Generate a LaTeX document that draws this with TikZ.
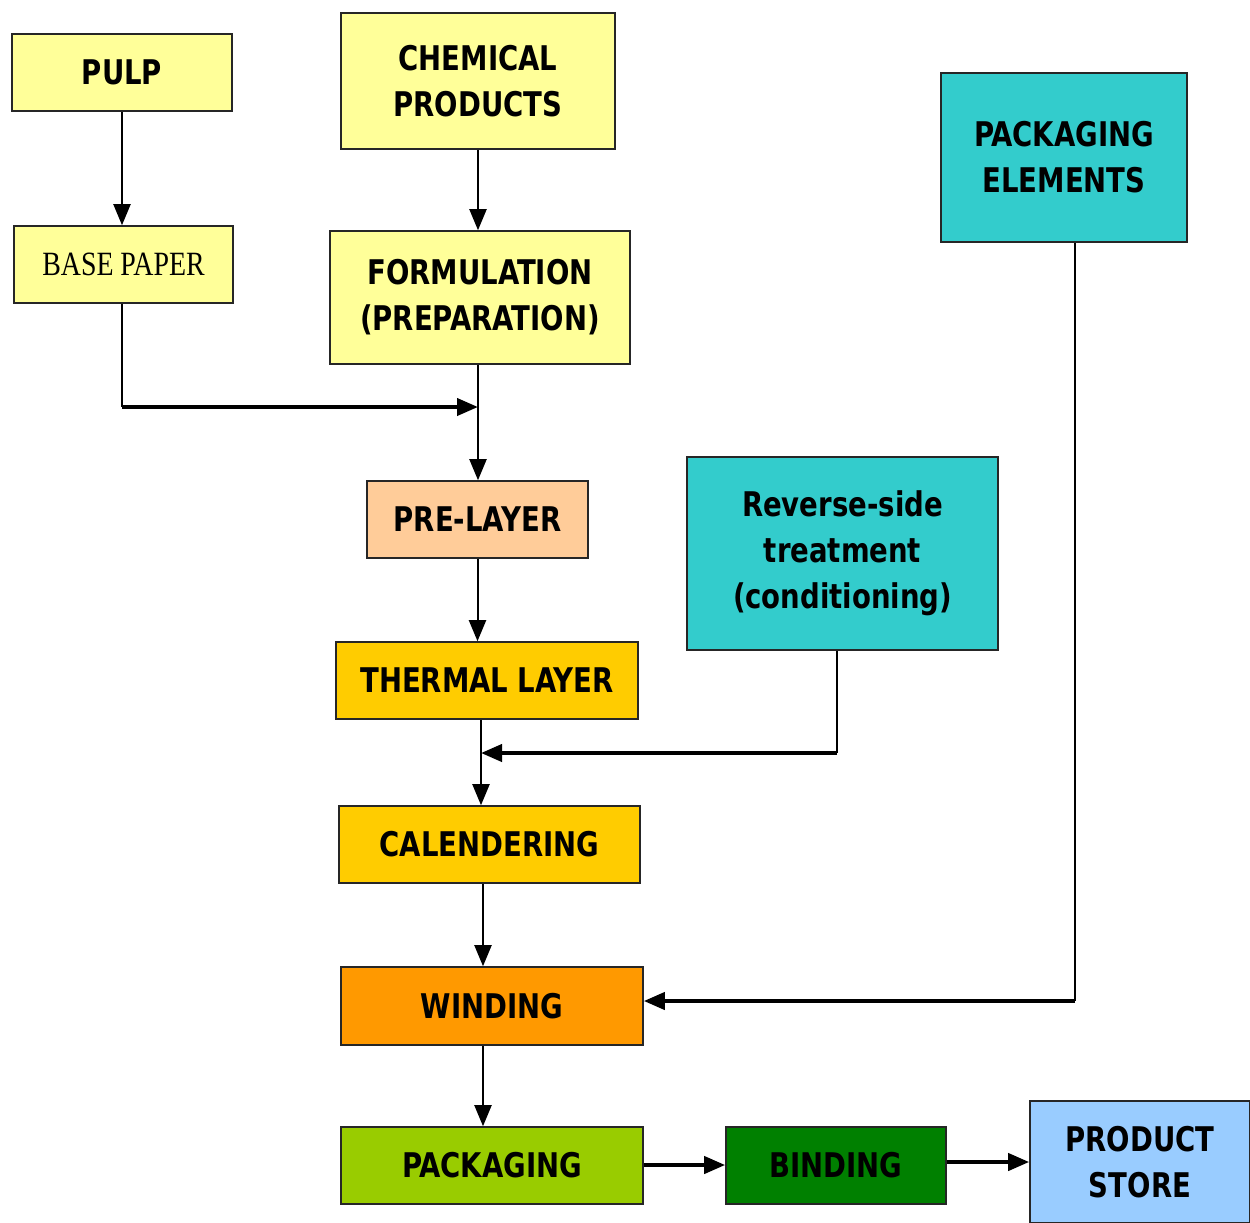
\documentclass[tikz,border=0pt]{standalone}
\usepackage{fontspec}
\setmainfont[FakeStretch=0.9]{DejaVu Sans Condensed}
\newfontfamily\serifbox[FakeStretch=0.82]{Liberation Serif}
\usetikzlibrary{arrows.meta}
\usetikzlibrary{positioning}

\definecolor{paleyellow}{HTML}{FFFF99}
\definecolor{boxteal}{HTML}{33CCCC}
\definecolor{peach}{HTML}{FFCC99}
\definecolor{gold}{HTML}{FFCC00}
\definecolor{windorange}{HTML}{FF9900}
\definecolor{limegreen}{HTML}{99CC00}
\definecolor{bindgreen}{HTML}{008000}
\definecolor{skyblue}{HTML}{99CCFF}

\begin{document}
\begin{tikzpicture}[
		x=0.5pt,y=-0.5pt,
		>={Triangle[length=10.5pt,width=8.5pt]},
		box/.style={draw=black!85,line width=0.8pt,rectangle,align=center,inner sep=0pt,
			font=\bfseries\fontsize{17}{23}\selectfont},
		raw/.style={box,fill=paleyellow},
		mix/.style={box,fill=gold},
		extra/.style={box,fill=boxteal},
		flow/.style={->,line width=1pt},
		feed/.style={->,line width=2pt}
	]
		\useasboundingbox (0,0) rectangle (1250,1223);
		\fill[white] (0,0) rectangle (1250,1223);

		\node [raw,minimum width=110pt,minimum height=38.5pt] (pulp) at (122,72.5) {PULP};
		\node [raw,minimum width=137pt,minimum height=68pt] (chemicals) at (478,81) {CHEMICAL\\PRODUCTS};
		\node [raw,minimum width=109.5pt,minimum height=38.5pt,font=\serifbox\fontsize{17}{20}\selectfont] (base_paper) at (123.5,264.5) {BASE PAPER};
		\node [raw,minimum width=150pt,minimum height=66.5pt] (formulation) at (480,297.5) {FORMULATION\\(PREPARATION)};
		\node [extra,minimum width=123pt,minimum height=84.5pt] (pack_elements) at (1064,157.5) {PACKAGING\\ELEMENTS};

		\node [box,fill=peach,minimum width=110.5pt,minimum height=38.5pt] (pre_layer) at (477.5,519.5) {PRE-LAYER};
		\node [extra,minimum width=155.5pt,minimum height=96.5pt] (reverse_side) at (842.5,553.5) {Reverse-side\\treatment\\(conditioning)};
		\node [mix,minimum width=151pt,minimum height=38.5pt] (thermal) at (487,680.5) {THERMAL LAYER};
		\node [mix,minimum width=150.5pt,minimum height=38.5pt] (calendering) at (489.5,844.5) {CALENDERING};
		\node [box,fill=windorange,minimum width=151pt,minimum height=39pt] (winding) at (492,1006) {WINDING};
		\node [box,fill=limegreen,minimum width=151pt,minimum height=38.5pt] (packaging) at (492,1165.5) {PACKAGING};
		\node [box,fill=bindgreen,minimum width=110pt,minimum height=38.5pt] (binding) at (836,1165.5) {BINDING};
		\node [box,fill=skyblue,minimum width=110pt,minimum height=61pt] (store) at (1140,1162) {PRODUCT\\STORE};

		\coordinate (turn_base) at (122,407);
		\coordinate (join_base) at (478,407);
		\coordinate (turn_reverse) at (837,753);
		\coordinate (join_reverse) at (481,753);
		\coordinate (turn_pack) at (1075,1001);

		\draw [flow] (pulp.south -| turn_base) -- (base_paper.north -| turn_base);
		\draw [flow] (chemicals) -- (chemicals |- formulation.north);
		\draw [flow] (formulation.south -| chemicals) -- (chemicals |- pre_layer.north);
		\draw [line width=1pt] (base_paper.south -| turn_base) -- (turn_base);
		\draw [feed] (turn_base) -- (join_base);
		\draw [flow] (pre_layer) -- (pre_layer.south |- thermal.north);
		\draw [flow] (thermal.south -| join_reverse) -- (join_reverse |- calendering.north);
		\draw [line width=1pt] (reverse_side.south -| turn_reverse) -- (turn_reverse);
		\draw [feed] (turn_reverse) -- (join_reverse);
		\draw [flow] (calendering.south -| 483,0) -- (483,0 |- winding.north);
		\draw [line width=1pt] (pack_elements.south -| turn_pack) -- (turn_pack);
		\draw [feed] (turn_pack) -- (winding.east |- turn_pack);
		\draw [flow] (winding.south -| 483,0) -- (483,0 |- packaging.north);
		\draw [feed] (packaging.east |- 0,1165) -- (binding.west |- 0,1165);
		\draw [feed] (binding.east |- 0,1162) -- (store.west |- 0,1162);
	\end{tikzpicture}
\end{document}
